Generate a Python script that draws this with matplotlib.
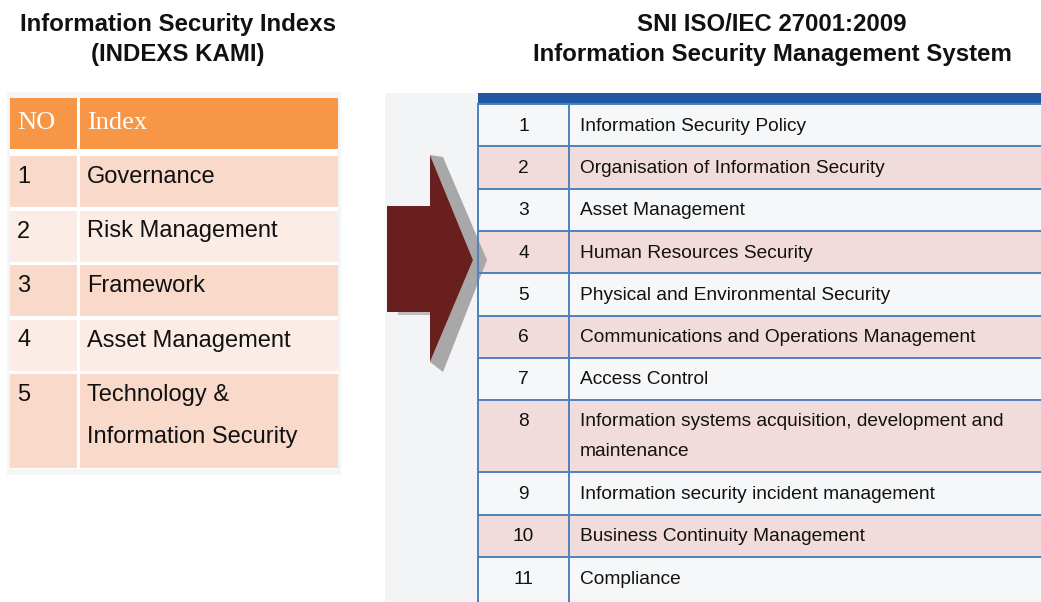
import matplotlib.pyplot as plt
from matplotlib import font_manager
from matplotlib.patches import Rectangle, Polygon

# ---- content ----
left_title = ['Information Security Indexs', '(INDEXS KAMI)']
right_title = ['SNI ISO/IEC 27001:2009', 'Information Security Management System']

left_header = ['NO', 'Index']
left_no = ['1', '2', '3', '4', '5']
left_items = ['Governance', 'Risk Management', 'Framework', 'Asset Management',
              'Technology &\nInformation Security']

right_no = ['1', '2', '3', '4', '5', '6', '7', '8', '9', '10', '11']
right_items = ['Information Security Policy',
               'Organisation of Information Security',
               'Asset Management',
               'Human Resources Security',
               'Physical and Environmental Security',
               'Communications and Operations Management',
               'Access Control',
               'Information systems acquisition, development and\nmaintenance',
               'Information security incident management',
               'Business Continuity Management',
               'Compliance']

# ---- fonts ----
names = {f.name for f in font_manager.fontManager.ttflist}
if 'Liberation Sans Narrow' in names:
    body_font, scale = 'Liberation Sans Narrow', 1.0
else:
    body_font, scale = 'Liberation Sans', 0.86

fig = plt.figure(figsize=(10.41, 6.02), dpi=100)
ax = fig.add_axes([0, 0, 1, 1])
ax.set_xlim(0, 1041)
ax.set_ylim(602, 0)
ax.axis('off')

# ---- titles ----
for i, line in enumerate(left_title):
    ax.text(178, 24.5 + 30 * i, line, ha='center', va='center', fontsize=17.3,
            fontweight='bold', family='Liberation Sans', color='#111111')
for i, line in enumerate(right_title):
    ax.text(772, 24.5 + 30 * i, line, ha='center', va='center', fontsize=17.3,
            fontweight='bold', family='Liberation Sans', color='#111111')

# ---- left table ----
ax.add_patch(Rectangle((7, 92), 334, 383, fc='#F4F5F6', ec='none'))
ax.add_patch(Rectangle((10, 98), 328, 371, fc='white', ec='none'))
orange = '#F79646'
ax.add_patch(Rectangle((10, 98), 67, 51, fc=orange, ec='none'))
ax.add_patch(Rectangle((80, 98), 258, 51, fc=orange, ec='none'))
ax.text(17, 123, left_header[0], ha='left', va='center', color='white',
        fontsize=19, family='Liberation Serif')
ax.text(87, 123, left_header[1], ha='left', va='center', color='white',
        fontsize=19, family='Liberation Serif')

top = 156
for i, (no, item) in enumerate(zip(left_no, left_items)):
    lines = item.split('\n')
    h = 51 + 43 * (len(lines) - 1)
    col = '#F8D9CA' if i % 2 == 0 else '#FBECE6'
    ax.add_patch(Rectangle((10, top), 67, h, fc=col, ec='none'))
    ax.add_patch(Rectangle((80, top), 258, h, fc=col, ec='none'))
    ax.text(17, top + 21, no, ha='left', va='center', fontsize=19.8 * scale,
            family=body_font, color='#111111')
    for k, line in enumerate(lines):
        ax.text(87, top + 21 + 42 * k, line, ha='left', va='center',
                fontsize=19.8 * scale, family=body_font, color='#111111')
    top += h + 3.5

# ---- right panel and table ----
ax.add_patch(Rectangle((385, 93), 656, 509, fc='#F3F4F6', ec='none'))
ax.add_patch(Rectangle((478, 93), 563, 11, fc='#1F58A5', ec='none'))

blue = '#4F81BD'
top = 104
for i, (no, item) in enumerate(zip(right_no, right_items)):
    lines = item.split('\n')
    h = 42.3 + 30 * (len(lines) - 1)
    col = '#F5F7F9' if i % 2 == 0 else '#F2DCDB'
    ax.add_patch(Rectangle((478, top), 563, h, fc=col, ec='none'))
    if len(lines) == 1:
        y0 = top + h / 2 + 1
    else:
        y0 = top + 21
    ax.text(523.5, y0, no, ha='center', va='center', fontsize=16 * scale,
            family=body_font, color='#111111')
    for k, line in enumerate(lines):
        ax.text(580, y0 + 30 * k, line, ha='left', va='center',
                fontsize=16 * scale, family=body_font, color='#111111')
    ax.plot([478, 1041], [top, top], color=blue, lw=1.4)
    top += h
ax.plot([478, 478], [104, 602], color=blue, lw=1.4)
ax.plot([569, 569], [104, 602], color=blue, lw=1.4)

# ---- arrow ----
ax.add_patch(Polygon([(430, 155), (443, 157), (487, 260), (443, 372),
                      (430, 362), (473, 260)], closed=True, fc='#A8A8A8', ec='none'))
ax.add_patch(Polygon([(398, 312), (430, 312), (430, 315), (398, 315)],
                     closed=True, fc='#BDBDBD', ec='none'))
ax.add_patch(Polygon([(387, 206), (430, 206), (430, 155), (473, 260),
                      (430, 362), (430, 312), (387, 312)], closed=True,
                     fc='#6A1F1F', ec='none'))

fig.savefig('out.png', dpi=100)
